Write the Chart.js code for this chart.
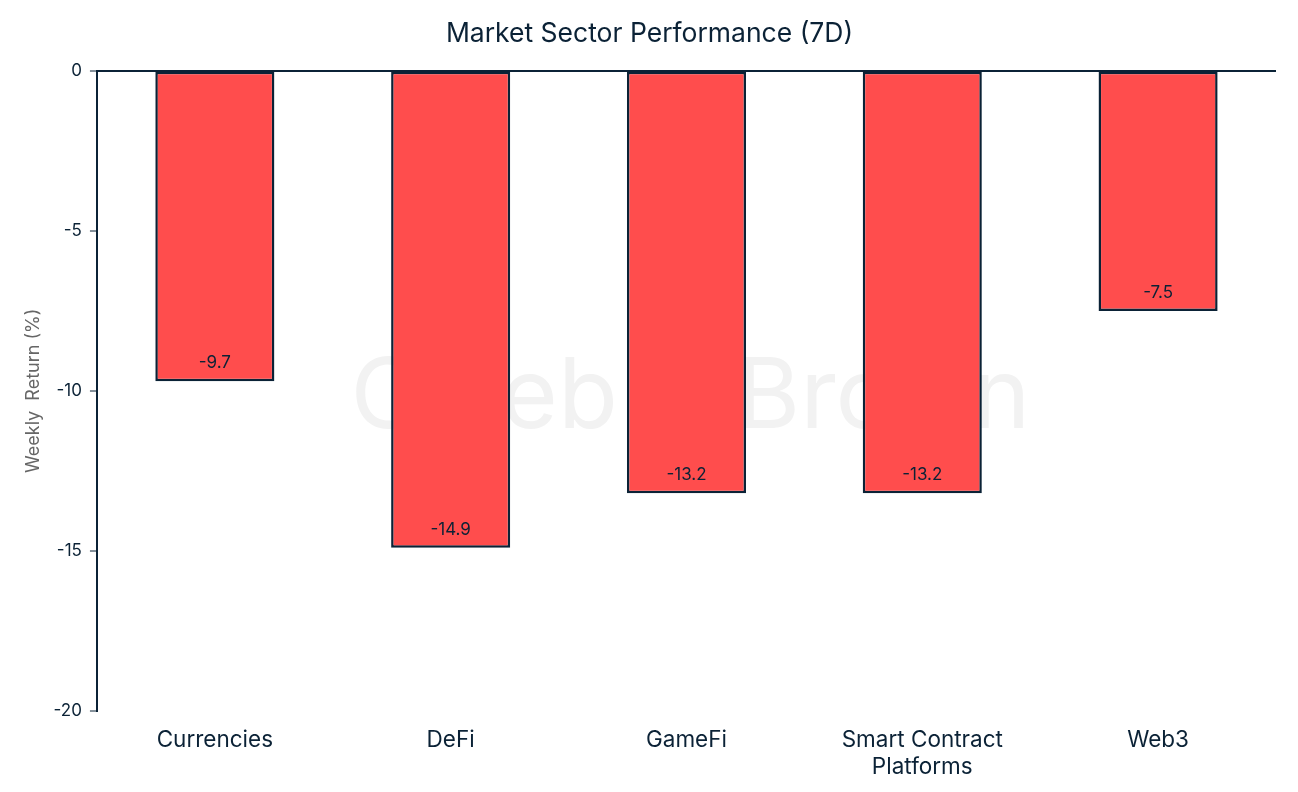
<!DOCTYPE html>
<html>
<head>
<meta charset="utf-8">
<style>
  html, body { margin: 0; padding: 0; background: #fff; }
  #wrap { width: 1298px; height: 792px; }
</style>
<script src="https://cdn.jsdelivr.net/npm/chart.js@4"></script>
</head>
<body>
<div id="wrap"><canvas id="sectorChart"></canvas></div>
<script>
const sectors = ['Currencies', 'DeFi', 'GameFi', ['Smart Contract', 'Platforms'], 'Web3'];
const weeklyReturns = [-9.7, -14.9, -13.2, -13.2, -7.5];
const yTicks = [0, -5, -10, -15, -20];

const navy = '#0b2236';
const fontFamily = 'Inter, "Noto Sans", sans-serif';

// faint brand watermark behind the bars
const watermark = {
    id: 'watermark',
    beforeDatasetsDraw(chart) {
        const { ctx, chartArea } = chart;
        ctx.save();
        ctx.font = '120px ' + fontFamily;
        const text = 'Caleb & Brown';
        const w = ctx.measureText(text).width;
        const size = 120 * 680 / w;
        ctx.font = size + 'px ' + fontFamily;
        ctx.fillStyle = '#f2f2f2';
        ctx.textAlign = 'center';
        ctx.textBaseline = 'middle';
        ctx.fillText(text, (chartArea.left + chartArea.right) / 2 + 4, (chartArea.top + chartArea.bottom) / 2 + 8);
        ctx.restore();
    }
};

// value labels inside the bar ends
const barLabels = {
    id: 'barLabels',
    afterDatasetsDraw(chart) {
        const { ctx } = chart;
        const meta = chart.getDatasetMeta(0);
        ctx.save();
        ctx.font = '17px ' + fontFamily;
        ctx.fillStyle = navy;
        ctx.textAlign = 'center';
        ctx.textBaseline = 'middle';
        meta.data.forEach((bar, i) => {
            ctx.fillText(weeklyReturns[i].toFixed(1), bar.x, bar.y - 18);
        });
        ctx.restore();
    }
};

const sectorCtx = document.getElementById('sectorChart').getContext('2d');

new Chart(sectorCtx, {
    type: 'bar',
    data: {
        labels: sectors,
        datasets: [{
            label: 'Weekly Return (%)',
            data: weeklyReturns,
            backgroundColor: '#ff4d4d',
            borderColor: navy,
            borderWidth: 2.5,
            borderSkipped: false,
            barPercentage: 0.505,
            categoryPercentage: 1.0
        }]
    },
    options: {
        responsive: true,
        maintainAspectRatio: false,
        animation: false,
        layout: {
            padding: { left: 23, right: 22, top: 0, bottom: 11 }
        },
        scales: {
            x: {
                position: 'bottom',
                border: { display: false },
                grid: { display: false, drawTicks: false },
                afterFit: (axis) => { axis.height = 70; },
                ticks: {
                    color: navy,
                    font: { family: fontFamily, size: 22.5, lineHeight: 1.2 },
                    padding: 16
                }
            },
            y: {
                min: -20,
                max: 0,
                afterBuildTicks: (axis) => { axis.ticks = yTicks.map(v => ({ value: v })); },
                border: { display: true, color: navy, width: 2 },
                grid: {
                    drawOnChartArea: true,
                    color: (c) => (c.tick && c.tick.value === 0 ? navy : 'rgba(0,0,0,0)'),
                    lineWidth: 2,
                    tickColor: navy,
                    tickLength: 7,
                    tickWidth: 1
                },
                ticks: {
                    color: navy,
                    font: { family: fontFamily, size: 17 },
                    padding: 8
                },
                title: {
                    display: true,
                    text: 'Weekly  Return (%)',
                    color: '#666666',
                    font: { family: fontFamily, size: 18 },
                    padding: { top: 0, bottom: 1 }
                }
            }
        },
        plugins: {
            legend: { display: false },
            tooltip: { enabled: false },
            title: {
                display: true,
                text: 'Market Sector Performance (7D)',
                color: navy,
                font: { family: fontFamily, size: 26.5, weight: 'normal' },
                padding: { top: 18, bottom: 21 }
            }
        }
    },
    plugins: [watermark, barLabels]
});
</script>
</body>
</html>
